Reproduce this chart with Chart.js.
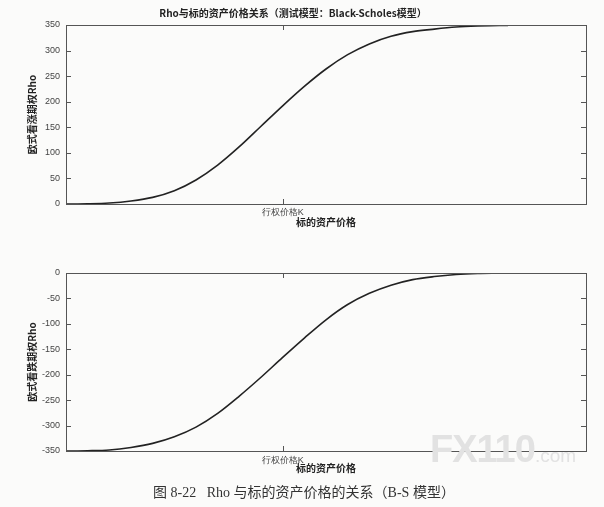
<!DOCTYPE html>
<html>
<head>
<meta charset="utf-8">
<script src="https://cdn.jsdelivr.net/npm/chart.js@4.4.0/dist/chart.umd.min.js"></script>
<style>
  body { margin: 0; background: #fbfbfa; }
  #wrap { position: relative; width: 604px; height: 507px; overflow: hidden; }
  .box { position: absolute; left: 0; width: 604px; height: 235px; }
  #caption { position: absolute; top: 481px; left: 0; width: 608px; text-align: center;
    font: 14px "Liberation Serif", "DejaVu Serif", "Noto Sans CJK SC", serif; color: #333; }
  #mark { position: absolute; left: 430px; top: 428px; color: #e2e2e2;
    font: bold 38px "Liberation Sans", Arial, sans-serif; letter-spacing: -1px; }
  #mark span { font-size: 19px; font-weight: normal; letter-spacing: 0; }
</style>
</head>
<body>
<div id="wrap">
  <div class="box" style="top:0"><canvas id="callChart"></canvas></div>
  <div class="box" style="top:250px"><canvas id="putChart"></canvas></div>
  <div id="mark">FX110<span>.com</span></div>
  <div id="caption">图 8-22&nbsp;&nbsp;&nbsp;Rho 与标的资产价格的关系（B-S 模型）</div>
</div>
<script>
  // underlying price samples and the strike position on the x axis
  const prices = [0, 5, 10, 15, 20, 25, 30, 35, 40, 45, 50, 55, 60, 65, 70, 75, 80, 85, 90, 95, 100, 102];
  const strike = 50;
  const strikeLabel = '行权价格K';

  // Rho
  const callRho = [0, 0.5, 2, 6, 13, 26, 47, 76, 112, 152, 192, 230, 264, 292, 313, 328, 337, 342, 346, 348, 349, 349];
  const putRho = [-350, -349.5, -348, -343, -335, -322, -303, -276, -242, -205, -166, -128, -92, -62, -40, -24, -13, -7, -3, -1, -0.3, 0];

  const callTicks = [0, 50, 100, 150, 200, 250, 300, 350];
  const putTicks = [-350, -300, -250, -200, -150, -100, -50, 0];

  const tickFont = { family: 'Liberation Sans', size: 9 };
  const boldFont = { family: 'Noto Sans CJK SC', size: 10, weight: 'bold' };

  // MATLAB style box with ticks pointing inward
  const boxPlugin = {
    id: 'box',
    afterDraw(chart) {
      const { ctx, chartArea: a, scales } = chart;
      ctx.save();
      ctx.strokeStyle = '#555';
      ctx.lineWidth = 1;
      ctx.strokeRect(a.left + 0.5, a.top + 0.5, a.right - a.left, a.bottom - a.top);
      ctx.beginPath();
      scales.y.ticks.forEach(t => {
        const py = Math.round(scales.y.getPixelForValue(t.value)) + 0.5;
        ctx.moveTo(a.left, py); ctx.lineTo(a.left + 5, py);
        ctx.moveTo(a.right, py); ctx.lineTo(a.right - 5, py);
      });
      const px = Math.round(scales.x.getPixelForValue(strike)) + 0.5;
      ctx.moveTo(px, a.bottom); ctx.lineTo(px, a.bottom - 5);
      ctx.moveTo(px, a.top); ctx.lineTo(px, a.top + 5);
      ctx.stroke();
      ctx.restore();
    }
  };

  function makeChart(id, values, ticks, yTitle, opts) {
    const ctx = document.getElementById(id).getContext('2d');
    return new Chart(ctx, {
      type: 'line',
      data: {
        datasets: [{
          data: prices.map((p, i) => ({ x: p, y: values[i] })),
          borderColor: '#222',
          borderWidth: 1.6,
          pointRadius: 0,
          cubicInterpolationMode: 'monotone',
          fill: false
        }]
      },
      options: {
        responsive: false,
        animation: false,
        devicePixelRatio: 1,
        layout: { padding: { top: opts.padTop, right: 18, left: 0, bottom: 0 } },
        plugins: {
          legend: { display: false },
          tooltip: { enabled: false },
          title: {
            display: !!opts.title,
            text: opts.title,
            color: '#222',
            font: boldFont,
            padding: { top: 7, bottom: 6 }
          }
        },
        scales: {
          x: {
            type: 'linear',
            min: 0,
            max: 120,
            afterBuildTicks: s => { s.ticks = [{ value: strike }]; },
            ticks: {
              callback: () => strikeLabel,
              color: '#444',
              font: tickFont,
              padding: opts.xPad,
              maxRotation: 0
            },
            grid: { display: false, drawTicks: false },
            border: { display: false },
            title: {
              display: true,
              text: '标的资产价格',
              color: '#222',
              font: boldFont,
              padding: { top: 0, bottom: opts.xTitlePad }
            },
            afterFit: s => { s.height = opts.xHeight; }
          },
          y: {
            min: ticks[0],
            max: ticks[ticks.length - 1],
            afterBuildTicks: s => { s.ticks = ticks.map(v => ({ value: v })); },
            ticks: { color: '#444', font: tickFont, padding: 6 },
            grid: { display: false, drawTicks: false },
            border: { display: false },
            title: {
              display: true,
              text: yTitle,
              color: '#222',
              font: boldFont,
              padding: { top: 26, bottom: 0 }
            },
            afterFit: s => { s.width = 66; }
          }
        }
      },
      plugins: [boxPlugin]
    });
  }

  const canvases = ['callChart', 'putChart'];
  canvases.forEach(id => {
    const c = document.getElementById(id);
    c.width = 604; c.height = 235;
    c.style.width = '604px'; c.style.height = '235px';
  });

  makeChart('callChart', callRho, callTicks, '欧式看涨期权Rho', {
    title: 'Rho与标的资产价格关系（测试模型：Black-Scholes模型）',
    padTop: 0, xHeight: 31, xPad: 3, xTitlePad: 7
  });
  makeChart('putChart', putRho, putTicks, '欧式看跌期权Rho', {
    title: '', padTop: 23, xHeight: 34, xPad: 4, xTitlePad: 11
  });
</script>
</body>
</html>
